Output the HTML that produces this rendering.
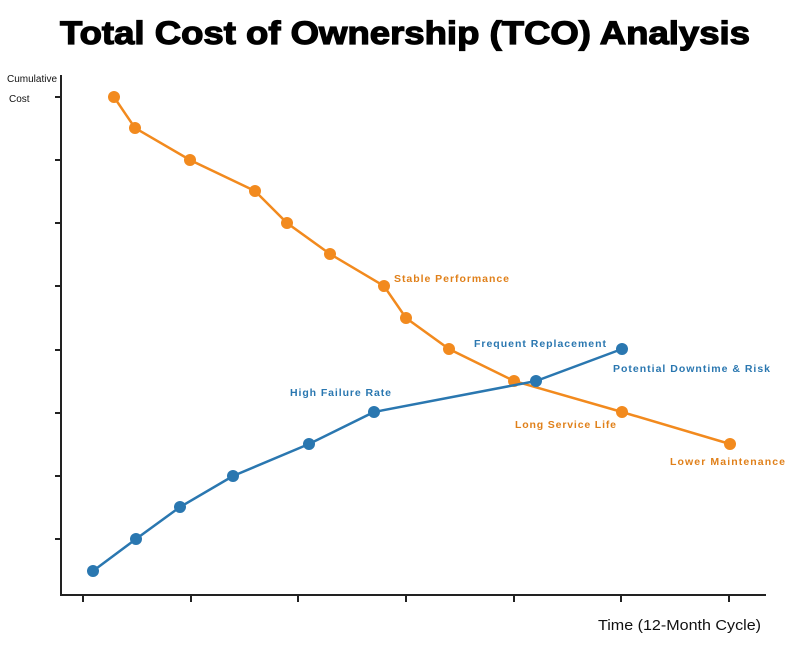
<!DOCTYPE html>
<html><head><meta charset="utf-8"><style>
body{margin:0;background:#fff;width:800px;height:648px;overflow:hidden}
</style></head><body>
<svg width="800" height="648" xmlns="http://www.w3.org/2000/svg" font-family="Liberation Sans, sans-serif">
<text x="60" y="44" font-size="32" font-weight="bold" fill="#000" stroke="#000" stroke-width="1.2" textLength="690" lengthAdjust="spacingAndGlyphs">Total Cost of Ownership (TCO) Analysis</text>
<text x="7" y="82" font-size="10" fill="#111">Cumulative</text>
<text x="9" y="102" font-size="10" fill="#111">Cost</text>
<g stroke="#222" stroke-width="2" fill="none">
<line x1="61" y1="75" x2="61" y2="596"/>
<line x1="60" y1="595" x2="766" y2="595"/>
<path d="M55 97h6M55 160h6M55 223h6M55 286h6M55 350h6M55 413h6M55 476h6M55 539h6"/>
<path d="M83 595v7M191 595v7M298 595v7M406 595v7M514 595v7M621 595v7M729 595v7"/>
</g>
<text x="761" y="630" text-anchor="end" font-size="15" fill="#111" textLength="163" lengthAdjust="spacingAndGlyphs">Time (12-Month Cycle)</text>
<g stroke="#f28a1e" stroke-width="2.5" fill="none">
<polyline points="114,97 135,128 190,160 255,191 287,223 330,254 384,286 406,318 449,349 514,381 622,412 730,444"/>
</g>
<g fill="#f28a1e">
<circle cx="114" cy="97" r="6"/><circle cx="135" cy="128" r="6"/><circle cx="190" cy="160" r="6"/><circle cx="255" cy="191" r="6"/><circle cx="287" cy="223" r="6"/><circle cx="330" cy="254" r="6"/><circle cx="384" cy="286" r="6"/><circle cx="406" cy="318" r="6"/><circle cx="449" cy="349" r="6"/><circle cx="514" cy="381" r="6"/><circle cx="622" cy="412" r="6"/><circle cx="730" cy="444" r="6"/>
</g>
<g stroke="#2a77b0" stroke-width="2.5" fill="none">
<polyline points="93,571 136,539 180,507 233,476 309,444 374,412 536,381 622,349"/>
</g>
<g fill="#2a77b0">
<circle cx="93" cy="571" r="6"/><circle cx="136" cy="539" r="6"/><circle cx="180" cy="507" r="6"/><circle cx="233" cy="476" r="6"/><circle cx="309" cy="444" r="6"/><circle cx="374" cy="412" r="6"/><circle cx="536" cy="381" r="6"/><circle cx="622" cy="349" r="6"/>
</g>
<g font-size="10.5" font-weight="bold" lengthAdjust="spacingAndGlyphs">
<text x="394" y="282" fill="#e0801a" textLength="115">Stable Performance</text>
<text x="515" y="428" fill="#e0801a" textLength="101">Long Service Life</text>
<text x="670" y="465" fill="#e0801a" textLength="115">Lower Maintenance</text>
<text x="474" y="347" fill="#2a77b0" textLength="132">Frequent Replacement</text>
<text x="290" y="396" fill="#2a77b0" textLength="101">High Failure Rate</text>
<text x="613" y="372" fill="#2a77b0" textLength="157">Potential Downtime &amp; Risk</text>
</g>
</svg>
</body></html>
